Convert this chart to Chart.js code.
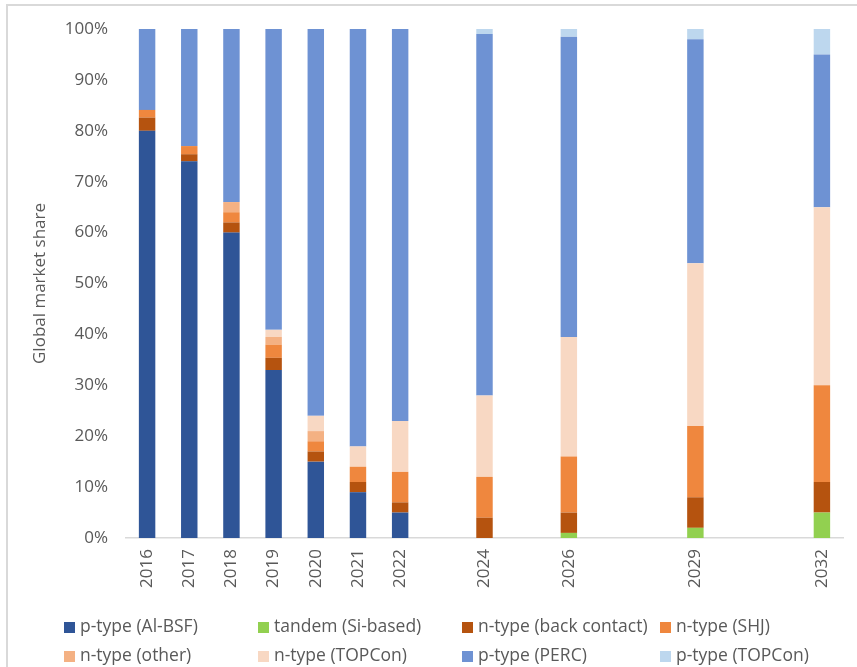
<!DOCTYPE html>
<html>
<head>
<meta charset="utf-8">
<script src="https://cdn.jsdelivr.net/npm/chart.js@4.4.1/dist/chart.umd.min.js"></script>
<style>
  html, body { margin: 0; padding: 0; background: #fff; }
  #wrap { position: relative; width: 857px; height: 667px; overflow: hidden; background: #fff; }
  #frame { position: absolute; left: 6px; top: 4px; width: 1000px; height: 1000px;
           border-left: 2px solid #D9D9D9; border-top: 2px solid #D9D9D9; }
  #c { position: absolute; left: 0; top: 0; }
  #legend { position: absolute; left: 0; top: 0; width: 857px; height: 667px; pointer-events: none;
            font-family: 'Open Sans', sans-serif; font-size: 17.5px; color: #595959; }
  .li { position: absolute; white-space: nowrap; line-height: 20px; }
  .li .sw { display: inline-block; width: 11px; height: 11px; margin-right: 5px; vertical-align: -1px; }
</style>
</head>
<body>
<div id="wrap">
  <div id="frame"></div>
  <canvas id="c" width="857" height="600"></canvas>
  <div id="legend"></div>
</div>
<script>
// Categories (years; blank labels for years without data)
const categories = ['2016','2017','2018','2019','2020','2021','2022','','2024','','2026','','','2029','','','2032'];

// Series values (% global market share)
const pAlBSF      = [80, 74, 60, 33, 15, 9, 5, null, 0, null, 0, null, null, 0, null, null, 0];
const tandemSi    = [0, 0, 0, 0, 0, 0, 0, null, 0, null, 1, null, null, 2, null, null, 5];
const nBackContact= [2.6, 1.4, 2, 2.4, 2, 2, 2, null, 4, null, 4, null, null, 6, null, null, 6];
const nSHJ        = [1.5, 1.6, 2, 2.6, 2, 3, 6, null, 8, null, 11, null, null, 14, null, null, 19];
const nOther      = [0, 0, 2, 1.5, 2, 0, 0, null, 0, null, 0, null, null, 0, null, null, 0];
const nTOPCon     = [0, 0, 0, 1.4, 3, 4, 10, null, 16, null, 23.5, null, null, 32, null, null, 35];
const pPERC       = [15.9, 23, 34, 59.1, 76, 82, 77, null, 71, null, 59, null, null, 44, null, null, 30];
const pTOPCon     = [0, 0, 0, 0, 0, 0, 0, null, 1, null, 1.5, null, null, 2, null, null, 5];

const seriesNames = ['p-type (Al-BSF)','tandem (Si-based)','n-type (back contact)','n-type (SHJ)',
                     'n-type (other)','n-type (TOPCon)','p-type (PERC)','p-type (TOPCon)'];
const seriesData = [pAlBSF, tandemSi, nBackContact, nSHJ, nOther, nTOPCon, pPERC, pTOPCon];
const seriesColors = ['#2F5597','#92D050','#B5530F','#EF873E','#F4B183','#F8D8C3','#6E92D3','#BDD7EE'];

const yTicks = [0,10,20,30,40,50,60,70,80,90,100];

Chart.defaults.font.family = "'Open Sans', sans-serif";
Chart.defaults.color = '#595959';

const datasets = seriesNames.map((n, i) => ({
  label: n,
  data: seriesData[i],
  backgroundColor: seriesColors[i],
  borderWidth: 0,
  barPercentage: 0.39,
  categoryPercentage: 1.0
}));

const chart = new Chart(document.getElementById('c'), {
  type: 'bar',
  data: { labels: categories, datasets },
  options: {
    responsive: false,
    animation: false,
    devicePixelRatio: 1,
    layout: { padding: { top: 29, right: 14, left: 0, bottom: 0 } },
    plugins: { legend: { display: false }, tooltip: { enabled: false } },
    scales: {
      x: {
        stacked: true,
        grid: { display: false, drawTicks: false },
        border: { display: true, color: '#D9D9D9', width: 1.5 },
        ticks: { autoSkip: false, minRotation: 90, maxRotation: 90, padding: 11,
                 font: { size: 17 }, color: '#595959' },
        afterFit: (s) => { s.height = 62; }
      },
      y: {
        stacked: true,
        min: 0, max: 100,
        grid: { display: false, drawTicks: false },
        border: { display: false },
        afterBuildTicks: (s) => { s.ticks = yTicks.map(v => ({ value: v })); },
        ticks: { padding: 18, font: { size: 17 }, color: '#595959',
                 callback: (v) => v + '%' },
        title: { display: true, text: 'Global market share', color: '#595959',
                 font: { size: 17 }, padding: { top: 30, bottom: 0 } },
        afterFit: (s) => { s.width = 126; }
      }
    }
  }
});

// Legend built from the chart's datasets (4 columns x 2 rows)
const legendCols = [64, 258, 462, 660];
const legendRows = [615, 644];
const lg = document.getElementById('legend');
chart.data.datasets.forEach((ds, i) => {
  const d = document.createElement('div');
  d.className = 'li';
  d.style.left = legendCols[i % 4] + 'px';
  d.style.top = legendRows[Math.floor(i / 4)] + 'px';
  const sw = document.createElement('span');
  sw.className = 'sw';
  sw.style.background = ds.backgroundColor;
  d.appendChild(sw);
  d.appendChild(document.createTextNode(ds.label));
  lg.appendChild(d);
});
</script>
</body>
</html>
